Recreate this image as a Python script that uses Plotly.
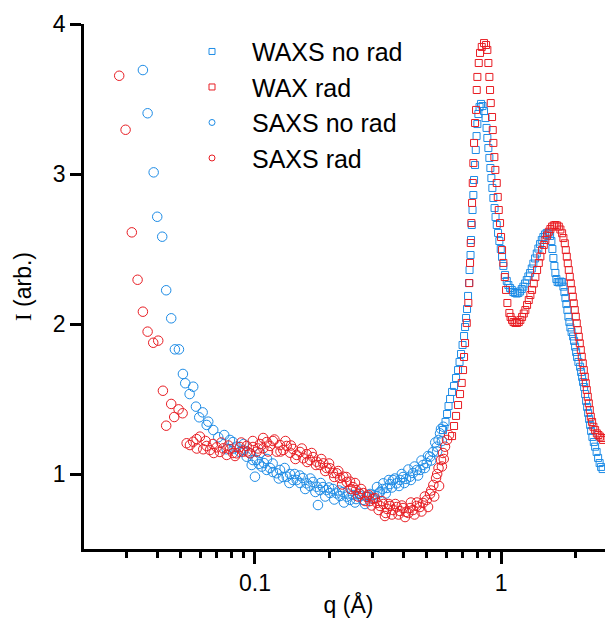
import math
import plotly.graph_objects as go

# ---------------- data ----------------
saxs_norad_q = [0.03505, 0.03663, 0.03876, 0.04008, 0.04199, 0.04358, 0.04568, 0.04728, 0.04910, 0.05097,
                0.05208, 0.05427, 0.05613, 0.05758, 0.05937, 0.06130, 0.06365, 0.06460, 0.06769, 0.07092,
                0.07674, 0.07914, 0.08139, 0.08425, 0.0869, 0.08964, 0.09254, 0.09543, 0.09815, 0.1016,
                0.1038, 0.1065, 0.1, 0.1088, 0.1116, 0.1151, 0.1183, 0.1225, 0.1264, 0.1300,
                0.1346, 0.1388, 0.1427, 0.1478, 0.1524, 0.1567, 0.1622, 0.1673, 0.1721, 0.1782,
                0.1803, 0.1837, 0.1889, 0.1956, 0.2018, 0.2075, 0.2148, 0.2216, 0.2279, 0.2360,
                0.2433, 0.2503, 0.2574, 0.2672, 0.2748, 0.2853, 0.2935, 0.3018, 0.3132, 0.3222,
                0.3323, 0.3440, 0.3538, 0.3639, 0.3767, 0.3885, 0.3996, 0.4110, 0.4267, 0.4388,
                0.4543, 0.4685, 0.4819, 0.4989, 0.5146, 0.5292, 0.5478, 0.5571, 0.5649, 0.5826]
saxs_norad_I = [3.693, 3.405, 3.011, 2.715, 2.582, 2.225, 2.038, 1.831, 1.831, 1.667,
                1.605, 1.533, 1.582, 1.449, 1.378, 1.411, 1.327, 1.349, 1.293, 1.245,
                1.165, 1.227, 1.213, 1.182, 1.147, 1.16, 1.115, 1.138, 1.093, 1.093,
                1.067, 1.049, 0.982, 1.073, 1.027, 1.04, 1.013, 1.005, 1.027, 0.98,
                0.982, 1.0, 0.96, 0.96, 0.94, 0.973, 0.938, 0.92, 0.947, 0.915,
                0.793, 0.893, 0.913, 0.893, 0.873, 0.9, 0.871, 0.853, 0.88, 0.849,
                0.827, 0.86, 0.833, 0.853, 0.827, 0.847, 0.867, 0.84, 0.913, 0.88,
                0.938, 0.907, 0.933, 0.96, 0.938, 0.96, 0.98, 0.967, 0.982, 1.007,
                1.027, 1.027, 1.06, 1.073, 1.115, 1.147, 1.182, 1.227, 1.271, 1.315]
# further SAXS-no-rad circles along the upper / lower edges of the dense band
saxs_norad_q_band = [0.075, 0.082, 0.09, 0.097, 0.105, 0.112, 0.118, 0.125, 0.132, 0.138,
                     0.145, 0.152, 0.16, 0.168, 0.176, 0.185, 0.193, 0.2, 0.21, 0.22,
                     0.23, 0.24, 0.255, 0.265, 0.28, 0.29, 0.305, 0.318, 0.33, 0.34,
                     0.35, 0.36, 0.37, 0.385, 0.395, 0.405, 0.42, 0.43, 0.445, 0.46,
                     0.475, 0.49, 0.505, 0.52, 0.54, 0.55, 0.57, 0.575]
saxs_norad_I_band = [1.26, 1.17, 1.20, 1.06, 1.14, 1.10, 1.07, 0.97, 1.04, 0.94,
                     1.00, 0.99, 0.90, 0.97, 0.88, 0.94, 0.85, 0.91, 0.83, 0.89,
                     0.81, 0.87, 0.81, 0.87, 0.80, 0.85, 0.86, 0.87, 0.90, 0.87,
                     0.96, 0.91, 0.97, 0.92, 1.00, 0.94, 1.03, 0.96, 1.05, 0.99,
                     1.09, 1.04, 1.12, 1.09, 1.21, 1.15, 1.30, 1.22]

saxs_rad_q = [0.02808, 0.02981, 0.0316, 0.03335, 0.03505, 0.03663, 0.03861, 0.04045, 0.04227, 0.04358,
              0.04568, 0.04698, 0.04895, 0.05082, 0.05278, 0.05443, 0.05613, 0.05794, 0.05975, 0.06163,
              0.06365, 0.06565, 0.06752, 0.06989, 0.07205, 0.07431, 0.07674, 0.07914, 0.08139, 0.08425,
              0.0869, 0.08964, 0.09254, 0.09543, 0.09815, 0.1016, 0.1048, 0.1081, 0.1116, 0.1151,
              0.1183, 0.1225, 0.1264, 0.1303, 0.1346, 0.1388, 0.1427, 0.1478, 0.1524, 0.1571,
              0.1622, 0.1673, 0.1721, 0.1782, 0.1837, 0.1895, 0.1956, 0.2018, 0.2075, 0.2148,
              0.2216, 0.2286, 0.2360, 0.2433, 0.2503, 0.2574, 0.2672, 0.2755, 0.2853, 0.2935,
              0.3018, 0.3132, 0.3222, 0.3323, 0.3374, 0.3440, 0.3538, 0.3639, 0.3767, 0.3885,
              0.3996, 0.4073, 0.4110, 0.4267, 0.4388, 0.4543, 0.4685, 0.4819, 0.4989, 0.5146,
              0.5307, 0.5443, 0.5571, 0.5703, 0.5809, 0.5919, 0.6033, 0.6147]
saxs_rad_I = [3.655, 3.295, 2.611, 2.295, 2.082, 1.949, 1.875, 1.889, 1.555, 1.322,
              1.467, 1.38, 1.431, 1.405, 1.205, 1.193, 1.215, 1.233, 1.249, 1.165,
              1.187, 1.16, 1.2, 1.178, 1.147, 1.171, 1.127, 1.165, 1.14, 1.138,
              1.18, 1.149, 1.187, 1.138, 1.18, 1.149, 1.2, 1.171, 1.213, 1.187,
              1.22, 1.149, 1.193, 1.16, 1.187, 1.142, 1.167, 1.127, 1.147, 1.105,
              1.133, 1.093, 1.113, 1.082, 1.06, 1.071, 1.04, 1.038, 1.007, 1.005,
              0.973, 0.982, 0.947, 0.949, 0.913, 0.893, 0.867, 0.873, 0.847, 0.82,
              0.833, 0.807, 0.787, 0.8, 0.72, 0.767, 0.787, 0.76, 0.78, 0.753,
              0.773, 0.713, 0.747, 0.773, 0.76, 0.787, 0.78, 0.807, 0.827, 0.867,
              0.927, 0.973, 1.04, 1.093, 1.14, 1.182, 1.227, 1.26]
# further SAXS-rad circles along the upper / lower edges of the dense band
saxs_rad_q_band = [0.058, 0.063, 0.068, 0.073, 0.078, 0.083, 0.088, 0.093, 0.098, 0.103,
                   0.108, 0.113, 0.12, 0.127, 0.133, 0.14, 0.146, 0.155, 0.163, 0.17,
                   0.177, 0.186, 0.193, 0.2, 0.21, 0.218, 0.226, 0.235, 0.245, 0.255,
                   0.262, 0.27, 0.28, 0.29, 0.298, 0.307, 0.318, 0.328, 0.34, 0.35,
                   0.36, 0.372, 0.383, 0.395, 0.42, 0.43, 0.445, 0.455, 0.475, 0.49,
                   0.505, 0.52, 0.535, 0.55, 0.56, 0.575, 0.585]
saxs_rad_I_band = [1.17, 1.22, 1.14, 1.21, 1.19, 1.12, 1.21, 1.15, 1.22, 1.17,
                   1.24, 1.15, 1.23, 1.15, 1.22, 1.19, 1.10, 1.17, 1.08, 1.14,
                   1.06, 1.10, 1.02, 1.07, 0.98, 1.02, 0.93, 0.98, 0.90, 0.94,
                   0.85, 0.90, 0.82, 0.86, 0.79, 0.84, 0.76, 0.82, 0.74, 0.80,
                   0.73, 0.80, 0.73, 0.79, 0.74, 0.81, 0.73, 0.81, 0.75, 0.85,
                   0.78, 0.89, 0.85, 1.00, 0.92, 1.05, 1.10]

waxs_norad_q = [0.5809, 0.5948, 0.6033, 0.6118, 0.6205, 0.6322, 0.6441, 0.6563, 0.6687, 0.6781,
                0.6877, 0.6975, 0.7073, 0.714, 0.7207, 0.7274, 0.7343, 0.7411, 0.7447, 0.7516,
                0.7551, 0.7602, 0.7658, 0.7716, 0.7767, 0.7840, 0.7893, 0.7952, 0.8012, 0.8088,
                0.8178, 0.8292, 0.8410, 0.8528, 0.8649, 0.8731, 0.8796, 0.8880, 0.8964, 0.9049,
                0.9133, 0.9218, 0.9305, 0.9410, 0.9497, 0.9605, 0.9723, 0.9842, 0.9972, 1.0094,
                1.0217, 1.0382, 1.0548, 1.0707, 1.0879, 1.1054, 1.122, 1.1399, 1.1582, 1.1757,
                1.1946, 1.2138, 1.2323, 1.2520, 1.2720, 1.2912, 1.3119, 1.3330, 1.3530, 1.3747,
                1.3967, 1.4178, 1.4405, 1.4636, 1.4859, 1.5097, 1.5339, 1.5571, 1.5820, 1.6014,
                1.6163, 1.6316, 1.6470, 1.6623, 1.6780, 1.6971, 1.7212, 1.7456, 1.7703, 1.7920,
                1.8087, 1.8258, 1.8427, 1.8602, 1.8778, 1.8952, 1.9131, 1.9348, 1.9622, 1.9804,
                1.9992, 2.0181, 2.0368, 2.0618, 2.0949, 2.1147, 2.1348, 2.1544, 2.1749, 2.1955,
                2.2159, 2.2369, 2.2581, 2.2790, 2.3006, 2.3224, 2.3504, 2.3815, 2.4108, 2.4449,
                2.4795, 2.5146, 2.5501, 2.5863]
waxs_norad_I = [1.293, 1.347, 1.4, 1.453, 1.5, 1.547, 1.587, 1.64, 1.693, 1.747,
                1.8, 1.86, 1.92, 1.98, 2.04, 2.1, 2.187, 2.273, 2.36, 2.46,
                2.56, 2.66, 2.76, 2.86, 2.96, 3.06, 3.16, 3.253, 3.333, 3.4,
                3.447, 3.467, 3.453, 3.42, 3.373, 3.307, 3.24, 3.173, 3.107, 3.04,
                2.973, 2.907, 2.84, 2.773, 2.713, 2.66, 2.607, 2.553, 2.5, 2.447,
                2.387, 2.327, 2.287, 2.26, 2.24, 2.227, 2.213, 2.207, 2.203, 2.207,
                2.217, 2.233, 2.249, 2.27, 2.293, 2.317, 2.34, 2.37, 2.403, 2.437,
                2.47, 2.503, 2.533, 2.56, 2.58, 2.597, 2.607, 2.603, 2.587, 2.553,
                2.5, 2.44, 2.387, 2.34, 2.3, 2.28, 2.277, 2.283, 2.28, 2.249,
                2.213, 2.173, 2.133, 2.093, 2.049, 2.013, 1.977, 1.947, 1.917, 1.887,
                1.849, 1.813, 1.78, 1.747, 1.715, 1.68, 1.647, 1.613, 1.58, 1.533,
                1.487, 1.447, 1.407, 1.367, 1.327, 1.287, 1.247, 1.213, 1.182, 1.147,
                1.107, 1.073, 1.047, 1.033]

wax_rad_q = [0.6322, 0.6441, 0.6563, 0.6687, 0.6813, 0.6921, 0.7007, 0.7073, 0.714, 0.7254,
             0.7363, 0.7432, 0.7482, 0.7530, 0.7574, 0.7623, 0.7674, 0.7716, 0.7767, 0.7840,
             0.7914, 0.7965, 0.8012, 0.8115, 0.8214, 0.8347, 0.8528, 0.8690, 0.8796, 0.8880,
             0.8964, 0.9022, 0.9081, 0.9192, 0.9253, 0.9305, 0.9392, 0.9480, 0.9605, 0.9696,
             0.9787, 0.9907, 1.0, 1.0094, 1.0217, 1.0352, 1.0479, 1.0607, 1.0808, 1.0930,
             1.1083, 1.1240, 1.1431, 1.1615, 1.1803, 1.1981, 1.2173, 1.2368, 1.2554, 1.2756,
             1.2960, 1.3156, 1.3366, 1.3581, 1.3786, 1.4007, 1.4234, 1.4448, 1.4680, 1.4915,
             1.5140, 1.5382, 1.5629, 1.5865, 1.6119, 1.6377, 1.6624, 1.6891, 1.7164, 1.7423,
             1.7703, 1.7920, 1.8154, 1.8323, 1.8496, 1.8668, 1.8844, 1.9023, 1.9199, 1.9381,
             1.9565, 1.9747, 1.9934, 2.0123, 2.0309, 2.0502, 2.0697, 2.0889, 2.1087, 2.1281,
             2.1483, 2.1687, 2.1888, 2.2096, 2.2306, 2.2512, 2.2726, 2.2941, 2.3154, 2.3438,
             2.3726, 2.4108, 2.4495, 2.4866, 2.5258, 2.5618, 2.5983]
wax_rad_I = [1.253, 1.32, 1.387, 1.46, 1.533, 1.607, 1.693, 1.78, 1.873, 2.007,
             2.14, 2.273, 2.407, 2.54, 2.673, 2.807, 2.94, 3.073, 3.207, 3.34,
             3.427, 3.56, 3.647, 3.74, 3.807, 3.847, 3.873, 3.86, 3.827, 3.74,
             3.647, 3.56, 3.473, 3.38, 3.293, 3.207, 3.113, 3.027, 2.94, 2.847,
             2.76, 2.673, 2.58, 2.493, 2.407, 2.313, 2.227, 2.14, 2.073, 2.047,
             2.027, 2.013, 2.007, 2.007, 2.013, 2.027, 2.047, 2.07, 2.093, 2.127,
             2.16, 2.193, 2.227, 2.27, 2.313, 2.36, 2.407, 2.45, 2.493, 2.527,
             2.56, 2.59, 2.615, 2.633, 2.649, 2.657, 2.66, 2.657, 2.649, 2.63,
             2.605, 2.573, 2.538, 2.493, 2.449, 2.405, 2.36, 2.315, 2.271, 2.227,
             2.182, 2.138, 2.093, 2.049, 2.005, 1.96, 1.915, 1.871, 1.827, 1.782,
             1.738, 1.693, 1.649, 1.605, 1.56, 1.515, 1.471, 1.427, 1.382, 1.347,
             1.315, 1.293, 1.271, 1.26, 1.249, 1.24, 1.227]

legend_names = ["WAXS no rad", "WAX rad", "SAXS no rad", "SAXS rad"]
x_major_ticks = [0.1, 1]
x_major_labels = ["0.1", "1"]
x_minor_ticks = [0.02, 0.03, 0.04, 0.05, 0.06, 0.07, 0.08, 0.09,
                 0.2, 0.3, 0.4, 0.5, 0.6, 0.7, 0.8, 0.9, 2]
y_ticks = [1, 2, 3, 4]
x_range = [0.0202, 2.85]
y_range = [0.5, 4]

# ---------------- style ----------------
BLUE = "rgb(30,140,230)"
RED = "rgb(232,30,36)"
FONT = "Liberation Sans, Arial, sans-serif"

fig = go.Figure()


def add_series(q, I, color, symbol, size):
    fig.add_trace(go.Scatter(
        x=q, y=I, mode="markers", showlegend=False, hoverinfo="skip",
        marker=dict(symbol=symbol, size=size, color=color, line=dict(width=1, color=color)),
    ))


add_series(saxs_norad_q + saxs_norad_q_band, saxs_norad_I + saxs_norad_I_band, BLUE, "circle-open", 9.5)
add_series(saxs_rad_q + saxs_rad_q_band, saxs_rad_I + saxs_rad_I_band, RED, "circle-open", 9.5)
add_series(waxs_norad_q, waxs_norad_I, BLUE, "square-open", 7)
add_series(wax_rad_q, wax_rad_I, RED, "square-open", 7)

# legend entries (small symbols like in the reference)
for name, color, symbol in zip(legend_names, [BLUE, RED, BLUE, RED],
                               ["square-open", "square-open", "circle-open", "circle-open"]):
    fig.add_trace(go.Scatter(
        x=[None], y=[None], mode="markers", name=name,
        marker=dict(symbol=symbol, size=6, color=color, line=dict(width=1, color=color)),
    ))

axis_common = dict(
    showline=True, linecolor="black", linewidth=2.5, mirror=False,
    showgrid=False, zeroline=False, ticks="outside", tickcolor="black",
    tickwidth=2.5, tickfont=dict(family=FONT, size=23, color="black"),
    automargin=False,
)

fig.update_layout(
    template="none",
    width=605, height=615,
    margin=dict(l=76, r=0, t=16, b=74),
    paper_bgcolor="white", plot_bgcolor="white",
    font=dict(family=FONT, color="black"),
    xaxis=dict(
        type="log",
        range=[math.log10(x_range[0]), math.log10(x_range[1])],
        tickmode="array", tickvals=x_major_ticks, ticktext=x_major_labels,
        ticklen=12,
        minor=dict(tickmode="array", tickvals=x_minor_ticks, ticks="outside",
                   ticklen=6, tickwidth=2.5, tickcolor="black", showgrid=False),
        title=dict(text="q (Å)", font=dict(family=FONT, size=23, color="black"), standoff=2),
        **axis_common,
    ),
    yaxis=dict(
        range=y_range,
        tickmode="array", tickvals=y_ticks,
        ticklen=11,
        title=dict(text="<span style=\"font-family:Liberation Serif\">I</span> (arb.)",
                   font=dict(family=FONT, size=23, color="black"), standoff=15),
        **axis_common,
    ),
    legend=dict(
        x=(172 - 84) / 529, xanchor="left",
        y=0.991, yanchor="top",
        font=dict(family=FONT, size=25, color="black"),
        bgcolor="rgba(0,0,0,0)", borderwidth=0,
        itemwidth=70, tracegroupgap=0,
    ),
    showlegend=True,
)

fig.write_html("out.html")
